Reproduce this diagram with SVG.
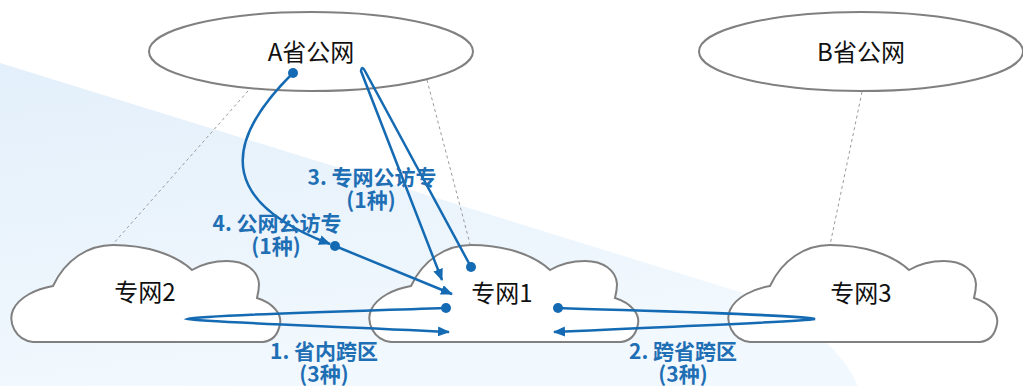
<svg xmlns="http://www.w3.org/2000/svg" width="1023" height="386" viewBox="0 0 1023 386">
<style>
.cloud{fill:#ffffff;stroke:#808080;stroke-width:2}
.oval{fill:#ffffff;stroke:#808080;stroke-width:2}
.dash{fill:none;stroke:#9a9a9a;stroke-width:1;stroke-dasharray:3 3}
.node{font-family:"Noto Sans CJK SC","Noto Sans",sans-serif;font-size:24px;fill:#111;text-anchor:middle}
.lbl{font-family:"Noto Sans CJK SC","Noto Sans",sans-serif;font-size:21px;font-weight:bold;fill:#1f6fb5;text-anchor:middle}
.conn{fill:none;stroke:#156bb3;stroke-width:2.5}
.dot{fill:#156bb3}
</style>
<defs>
<linearGradient id="bg" x1="0" y1="0" x2="0.35" y2="1">
<stop offset="0" stop-color="#e3effa"/>
<stop offset="1" stop-color="#f2f9fe"/>
</linearGradient>
<marker id="arr" markerUnits="userSpaceOnUse" markerWidth="12" markerHeight="10" refX="11" refY="5" orient="auto">
<path d="M0,0 L12,5 L0,10 z" fill="#156bb3"/>
</marker>
<path id="cloudShape" d="M33,342 C15,340 8,322 13,310 C19,297 36,289 53,286 C65,260 88,245 113,245 C145,245 175,254 192,270 C204,263 215,261 227,261 C245,261 258,270 259,284 C259,289 258,294 257,298 C273,303 282,314 280,324 C278,335 272,341 263,342 Z"/>
</defs>
<rect width="1023" height="386" fill="#ffffff"/>
<path d="M0,63 L740,292 Q835,330 858,386 L0,386 Z" fill="url(#bg)"/>
<g id="links-dashed">
<line class="dash" x1="248" y1="91" x2="113" y2="244"/>
<line class="dash" x1="427" y1="80" x2="470" y2="244"/>
<line class="dash" x1="862" y1="92" x2="830" y2="245"/>
</g>
<g id="nodeA">
<ellipse class="oval" cx="311" cy="51.5" rx="162" ry="39.5"/>
<text class="node" x="311" y="61">A省公网</text>
</g>
<g id="nodeB">
<ellipse class="oval" cx="861" cy="51.5" rx="162" ry="39.5"/>
<text class="node" x="861" y="61">B省公网</text>
</g>
<g id="net2">
<use href="#cloudShape" class="cloud"/>
<text class="node" x="145" y="301">专网2</text>
</g>
<g id="net1">
<use href="#cloudShape" class="cloud" transform="translate(358,0)"/>
<text class="node" x="502" y="302">专网1</text>
</g>
<g id="net3">
<use href="#cloudShape" class="cloud" transform="translate(717,0)"/>
<text class="node" x="861" y="302">专网3</text>
</g>
<g id="connectors">
<path class="conn" d="M446,308 C330,312 200,315 188,319 C200,322 330,326 449,332" marker-end="url(#arr)"/>
<circle class="dot" cx="446" cy="308" r="5"/>
<path class="conn" d="M558,308 C680,312 800,315 815,319 C800,322 680,326 554,332" marker-end="url(#arr)"/>
<circle class="dot" cx="558" cy="308" r="5"/>
<path class="conn" d="M471,267 L365,71 Q362,65 361,71 L442,280" marker-end="url(#arr)"/>
<circle class="dot" cx="471" cy="267" r="5"/>
<path class="conn" d="M293,73 C215,150 228,205 330,244" marker-end="url(#arr)"/>
<circle class="dot" cx="293" cy="73" r="5"/>
<path class="conn" d="M335,246 L452,294" marker-end="url(#arr)"/>
<circle class="dot" cx="335" cy="246" r="5"/>
</g>
<g id="labels">
<text class="lbl" x="372" y="185">3. 专网公访专<tspan x="371" dy="23">(1种)</tspan></text>
<text class="lbl" x="277" y="231">4. 公网公访专<tspan x="276" dy="23">(1种)</tspan></text>
<text class="lbl" x="324" y="359">1. 省内跨区<tspan x="324" dy="23">(3种)</tspan></text>
<text class="lbl" x="683" y="359">2. 跨省跨区<tspan x="683" dy="23">(3种)</tspan></text>
</g>
</svg>
